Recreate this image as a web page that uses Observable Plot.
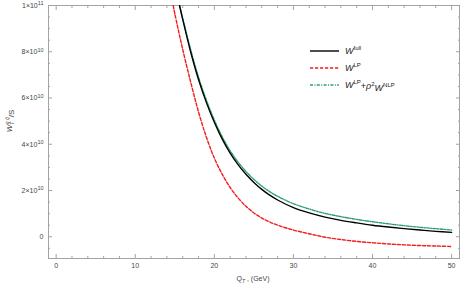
<!DOCTYPE html>
<html><head><meta charset="utf-8">
<script src="https://cdn.jsdelivr.net/npm/d3@7"></script>
<script src="https://cdn.jsdelivr.net/npm/@observablehq/plot@0.6"></script>
<style>
body{margin:0;background:#fff}
#chart{position:relative;width:462px;height:286px}
svg text{font-family:"Liberation Sans",Arial,sans-serif}
</style>
</head><body><div id="chart"></div>
<script>
// Q_T values (GeV) and W values for each curve
const qFull = [15.6,16,17,18,19,20,21,22,23,24,25,26,27,28,30,32,34,36,38,40,42,44,46,48,50];
const wFull = [100,94,80,68,58,49.5,42.2,36.2,31.2,27,23.5,20.5,18,15.9,12.6,10.3,8.5,7.1,6.0,5.0,4.2,3.5,2.9,2.35,1.9]; // ×1e9

const qNLP = [15.6,16,17,18,19,20,21,22,23,24,25,26,27,28,30,32,34,36,38,40,42,44,46,48,50];
const wNLP = [100,94.5,81,69,59,50.5,43.2,37.2,32.3,28.2,24.8,21.9,19.5,17.5,14.3,12,10.1,8.7,7.5,6.5,5.6,4.8,4.1,3.5,2.9]; // ×1e9

const qLP = [14.8,15,16,17,18,19,20,21,22,23,24,25,26,27,28,30,32,34,36,38,40,42,44,46,48,50];
const wLP = [100,96.5,81,67,54,43,34,27,21.3,16.8,13.2,10.3,8.1,6.4,5.0,2.9,1.3,-0.2,-1.2,-2.0,-2.6,-3.1,-3.5,-3.8,-4.0,-4.2]; // ×1e9

const xTickValues = [0,10,20,30,40,50];
const xMinorTicks = [2,4,6,8,12,14,16,18,22,24,26,28,32,34,36,38,42,44,46,48];
const yTickValues = [0,2e10,4e10,6e10,8e10,1e11];
const yTickLabels = ["0","2×10^10","4×10^10","6×10^10","8×10^10","1×10^11"];
const yMinorTicks = [-5e9,5e9,1e10,1.5e10,2.5e10,3e10,3.5e10,4.5e10,5e10,5.5e10,6.5e10,7e10,7.5e10,8.5e10,9e10,9.5e10];

const toRows = (q, w, s) => q.map((x, i) => ({q: x, w: w[i] * 1e9, s}));
const full = toRows(qFull, wFull, "full");
const lp = toRows(qLP, wLP, "LP");
const nlp = toRows(qNLP, wNLP, "NLP");

const frameColor = "#a3a3a3";
const labelColor = "#444";

// inward ticks: draw outward ticks then shift them inside the frame
const tickMarks = (axis, vals, anchor, size) => {
  const shift = {bottom: {dy: -size}, top: {dy: size}, left: {dx: size}, right: {dx: -size}}[anchor];
  return axis(vals, {anchor, tickSize: size, tickFormat: () => "", stroke: frameColor, label: null, ...shift});
};

const plot = Plot.plot({
  width: 462, height: 286,
  marginLeft: 48, marginRight: 3, marginTop: 5, marginBottom: 28,
  x: {domain: [-0.97, 51.0]},
  y: {domain: [-9.4e9, 1e11]},
  style: {fontFamily: "Liberation Sans, Arial, sans-serif"},
  marks: [
    tickMarks(Plot.axisX, xMinorTicks, "bottom", 2),
    tickMarks(Plot.axisX, xTickValues, "bottom", 4),
    tickMarks(Plot.axisX, xMinorTicks, "top", 2),
    tickMarks(Plot.axisX, xTickValues, "top", 4),
    tickMarks(Plot.axisY, yMinorTicks, "left", 2),
    tickMarks(Plot.axisY, yTickValues, "left", 4),
    tickMarks(Plot.axisY, yMinorTicks, "right", 2),
    tickMarks(Plot.axisY, yTickValues, "right", 4),
    Plot.axisX(xTickValues, {anchor: "bottom", tickSize: 0, tickPadding: 5, fontSize: 7, fill: labelColor, label: null}),
    Plot.axisY(yTickValues, {anchor: "left", tickSize: 0, tickPadding: 5, fontSize: 7, fill: labelColor, label: null,
      tickFormat: d => yTickLabels[yTickValues.indexOf(d)]}),
    Plot.frame({stroke: frameColor}),
    Plot.line(nlp, {x: "q", y: "w", stroke: "#2f9e72", strokeWidth: 1.4, strokeDasharray: "3,1.4,1,1.4", curve: "catmull-rom", clip: true}),
    Plot.line(full, {x: "q", y: "w", stroke: "#000", strokeWidth: 1.4, curve: "catmull-rom", clip: true}),
    Plot.line(lp, {x: "q", y: "w", stroke: "#f21c1c", strokeWidth: 1.4, strokeDasharray: "3.2,1.8", curve: "catmull-rom", clip: true})
  ]
});

document.getElementById("chart").appendChild(plot);
const svg = d3.select(plot);

// superscripts in tick labels
svg.selectAll("text").each(function() {
  const t = d3.select(this);
  const s = t.text();
  if (s.includes("^")) {
    const [base, exp] = s.split("^");
    t.text(null);
    t.append("tspan").text(base);
    t.append("tspan").attr("dy", "-0.45em").attr("font-size", "5.5px").text(exp);
  }
});

// axis labels
const xl = svg.append("text").attr("x", 253).attr("y", 281).attr("text-anchor", "middle")
  .attr("font-size", 7).attr("fill", labelColor);
xl.append("tspan").text("Q");
xl.append("tspan").attr("font-size", "5px").attr("font-style", "italic").attr("dy", "0.35em").text("T");
xl.append("tspan").attr("dy", "-0.3em").text(" , (GeV)");

const yl = svg.append("text").attr("transform", "translate(12,121) rotate(-90)").attr("text-anchor", "middle")
  .attr("font-size", 8).attr("fill", labelColor);
yl.append("tspan").attr("font-style", "italic").text("W");
yl.append("tspan").attr("font-size", "5px").attr("font-style", "italic").attr("dy", "0.4em").text("T");
yl.append("tspan").attr("font-size", "5px").attr("font-style", "italic").attr("dx", "-2.5").attr("dy", "-0.95em").text("q q̄");
yl.append("tspan").attr("dy", "0.55em").text("/S");

// legend
const legendItems = [
  {sup: "full", stroke: "#000", dash: null},
  {sup: "LP", stroke: "#f21c1c", dash: "3.2,1.8"},
  {sup: "LP", stroke: "#2f9e72", dash: "3,1.4,1,1.4", extra: true}
];
const lg = svg.append("g");
legendItems.forEach((it, i) => {
  const y = 51 + i * 17;
  lg.append("line").attr("x1", 310).attr("x2", 339).attr("y1", y).attr("y2", y)
    .attr("stroke", it.stroke).attr("stroke-width", 1.4).attr("stroke-dasharray", it.dash);
  const t = lg.append("text").attr("x", 345).attr("y", y + 3).attr("text-anchor", "start")
    .attr("font-size", 9).attr("fill", "#222");
  t.append("tspan").attr("font-style", "italic").text("W");
  t.append("tspan").attr("font-size", "6px").attr("dy", "-0.6em").text(it.sup);
  if (it.extra) {
    t.append("tspan").attr("dy", "0.55em").text("+");
    t.append("tspan").attr("font-style", "italic").text("ρ");
    t.append("tspan").attr("font-size", "6px").attr("dy", "-0.6em").text("2");
    t.append("tspan").attr("font-style", "italic").attr("dy", "0.55em").text("W");
    t.append("tspan").attr("font-size", "6px").attr("dy", "-0.6em").text("NLP");
  }
});
</script>
</body></html>
